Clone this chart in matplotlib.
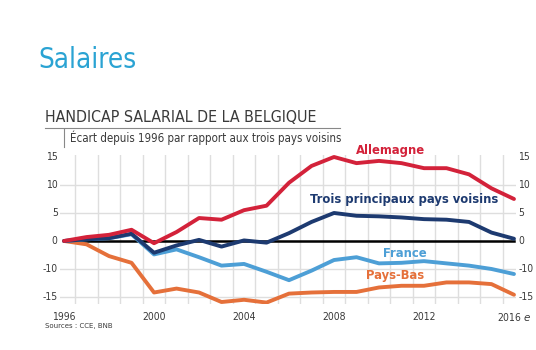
import matplotlib.pyplot as plt
import numpy as np

years = list(range(1996, 2017))
allemagne = [0, 0.7, 1.1, 2.0, -0.4, 1.6, 4.1, 3.8, 5.5, 6.3, 10.4, 13.4, 15.0,
             13.9, 14.3, 13.9, 13.0, 13.0, 11.9, 9.4, 7.5]
trois = [0, 0.3, 0.5, 1.3, -2.1, -0.8, 0.2, -1.0, 0.1, -0.3, 1.4, 3.4, 5.0,
         4.5, 4.4, 4.2, 3.9, 3.8, 3.4, 1.5, 0.4]
france = [0, 0.3, 0.5, 1.2, -2.4, -1.5, -2.9, -4.4, -4.1, -5.5, -7.0, -5.3, -3.4,
          -2.9, -4.0, -3.9, -3.6, -4.0, -4.4, -5.0, -5.9]
pays_bas = [0, -0.6, -2.7, -3.9, -9.2, -8.5, -9.2, -10.9, -10.5, -11.0, -9.4, -9.2, -9.1,
            -9.1, -8.3, -8.0, -8.0, -7.4, -7.4, -7.7, -9.6]

ytick_pos = [15, 10, 5, 0, -5, -10]
ytick_labels = ['15', '10', '5', '0', '-10', '-15']
xtick_years = [1996, 2000, 2004, 2008, 2012, 2016]
xtick_labels = ['1996', '2000', '2004', '2008', '2012', '2016 $\\it{e}$']

c_red = '#d3223a'
c_navy = '#1d3a70'
c_light = '#4d9fd6'
c_orange = '#e5703a'
c_grid = '#dedede'
c_text = '#3a3a3a'

fig = plt.figure(figsize=(5.36, 3.5), dpi=100)
fig.patch.set_facecolor('white')

W, H = 536, 350
ax = fig.add_axes([60 / W, 1 - 303.7 / H, (516 - 60) / W, (303.7 - 155.3) / H])
ax.set_xlim(1995.82, 2016.09)
ax.set_ylim(-11.2, 15.3)

# grid: vertical lines between years, horizontal at the ticks
for x in np.arange(1996.5, 2016, 1.0):
    ax.axvline(x, color=c_grid, lw=1.0, zorder=0)
for y in [10, 5, -5, -10]:
    ax.axhline(y, color=c_grid, lw=1.0, zorder=0)
ax.plot([1996, 2016], [0, 0], color='black', lw=1.8, zorder=1)

ax.plot(years, pays_bas, color=c_orange, lw=2.8, solid_capstyle='round', zorder=2)
ax.plot(years, france, color=c_light, lw=2.8, solid_capstyle='round', zorder=3)
ax.plot(years, trois, color=c_navy, lw=2.8, solid_capstyle='round', zorder=4)
ax.plot(years, allemagne, color=c_red, lw=2.8, solid_capstyle='round', zorder=5)

for s in ax.spines.values():
    s.set_visible(False)
ax.set_xticks([])
ax.set_yticks([])

tick_font = dict(fontsize=7.5, color=c_text, fontstretch='condensed')
for p, lab in zip(ytick_pos, ytick_labels):
    ax.text(-0.005, p, lab, transform=ax.get_yaxis_transform(), ha='right', va='center', **tick_font)
    ax.text(1.005, p, lab, transform=ax.get_yaxis_transform(), ha='left', va='center', **tick_font)
for yr, lab in zip(xtick_years, xtick_labels):
    ax.text(yr, -0.09, lab, transform=ax.get_xaxis_transform(), ha='center', va='center', **tick_font)

lab_font = dict(fontsize=9.3, fontweight='bold', fontstretch='condensed', ha='center', va='center')
ax.text(2010.5, 16.2, 'Allemagne', color=c_red, transform=ax.transData, clip_on=False, **lab_font)
ax.text(2011.1, 7.4, 'Trois principaux pays voisins', color=c_navy, **lab_font)
ax.text(2011.15, -2.2, 'France', color=c_light, **lab_font)
ax.text(2010.7, -6.2, 'Pays-Bas', color=c_orange, **lab_font)

fig.text(38 / W, 1 - 60 / H, 'Salaires', fontsize=20, color='#2aa3d3',
         fontstretch='condensed', ha='left', va='center')
fig.text(45 / W, 1 - 117 / H, 'HANDICAP SALARIAL DE LA BELGIQUE', fontsize=11.4,
         color=c_text, fontweight='light', fontstretch='condensed', ha='left', va='center')
fig.add_artist(plt.Line2D([45 / W, 340 / W], [1 - 128 / H, 1 - 128 / H], color='#888888', lw=0.8))
fig.add_artist(plt.Line2D([64 / W, 64 / W], [1 - 129 / H, 1 - 147 / H], color='#888888', lw=0.8))
fig.text(70 / W, 1 - 138 / H, 'Écart depuis 1996 par rapport aux trois pays voisins', fontsize=8.3,
         color=c_text, fontstretch='condensed', ha='left', va='center')
fig.text(45 / W, 1 - 326 / H, 'Sources : CCE, BNB', fontsize=5, color=c_text, ha='left', va='center')

fig.savefig('out.png', dpi=100)
